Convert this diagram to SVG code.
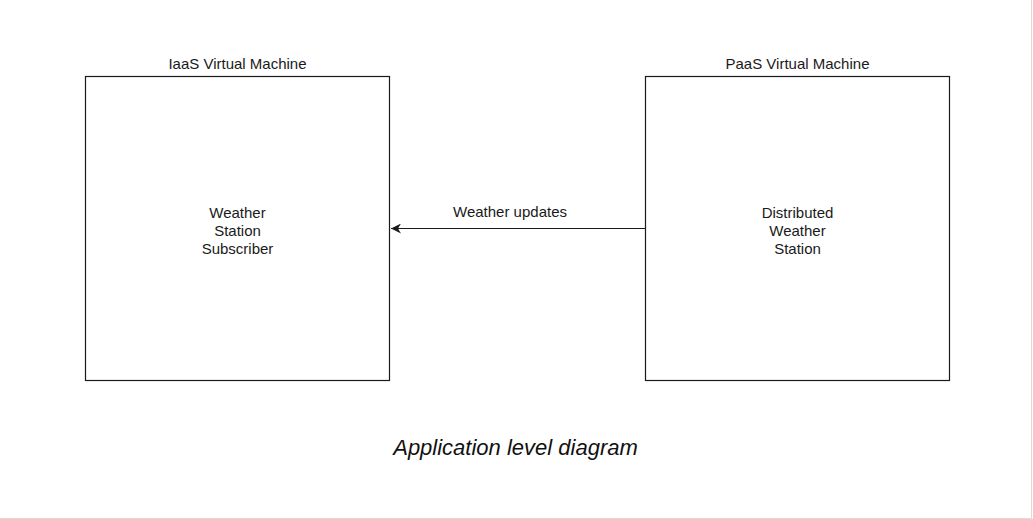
<svg xmlns="http://www.w3.org/2000/svg" width="1033" height="519" viewBox="0 0 1033 519">
<style>
.box{fill:#fff;stroke:#1a1a1a;stroke-width:1.2}
.t{font-family:"Liberation Sans",Arial,sans-serif;font-size:15px;fill:#1a1a1a;text-anchor:middle}
.cap{font-family:"Liberation Sans",Arial,sans-serif;font-size:22px;font-style:italic;fill:#111;text-anchor:middle}
.edge{stroke:#1a1a1a;stroke-width:1.2;fill:none}
</style>
<defs>
<marker id="ah" markerWidth="12" markerHeight="10" refX="10" refY="5" orient="auto" markerUnits="userSpaceOnUse">
<path d="M0,0 L10,5 L0,10 L3,5 Z" fill="#1a1a1a"/>
</marker>
</defs>
<rect x="0" y="0" width="1033" height="519" fill="#fff"/>
<path d="M0,518.5 H1031.5 V0" fill="none" stroke="#dcdcc8" stroke-width="1"/>
<g id="iaas">
<text class="t" x="237.5" y="69">IaaS Virtual Machine</text>
<rect class="box" x="85.5" y="76.5" width="304" height="304"/>
<text class="t" x="237.5" y="218">Weather</text>
<text class="t" x="237.5" y="236">Station</text>
<text class="t" x="237.5" y="254">Subscriber</text>
</g>
<g id="paas">
<text class="t" x="797.5" y="69">PaaS Virtual Machine</text>
<rect class="box" x="645.5" y="76.5" width="304" height="304"/>
<text class="t" x="797.5" y="218">Distributed</text>
<text class="t" x="797.5" y="236">Weather</text>
<text class="t" x="797.5" y="254">Station</text>
</g>
<g id="connectors">
<line class="edge" x1="645" y1="228.5" x2="391" y2="228.5" marker-end="url(#ah)"/>
<text class="t" x="510" y="217">Weather updates</text>
</g>
<text class="cap" x="515.5" y="455">Application level diagram</text>
</svg>
